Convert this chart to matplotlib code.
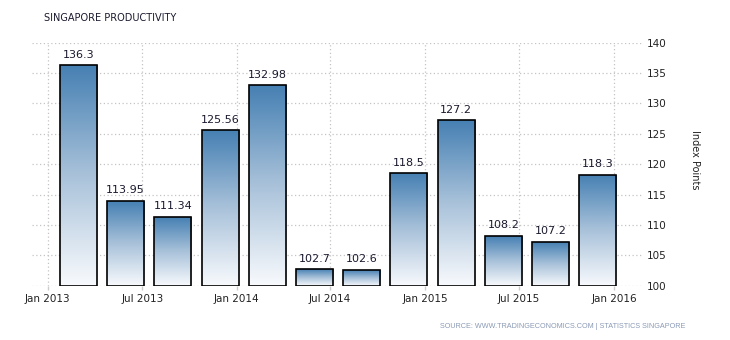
import matplotlib
matplotlib.use("Agg")
import matplotlib.pyplot as plt
import numpy as np
from matplotlib.colors import LinearSegmentedColormap

# Data
quarters = ["2013Q1", "2013Q2", "2013Q3", "2013Q4", "2014Q1", "2014Q2",
            "2014Q3", "2014Q4", "2015Q1", "2015Q2", "2015Q3", "2015Q4"]
values = [136.3, 113.95, 111.34, 125.56, 132.98, 102.7,
          102.6, 118.5, 127.2, 108.2, 107.2, 118.3]
value_labels = ["136.3", "113.95", "111.34", "125.56", "132.98", "102.7",
                "102.6", "118.5", "127.2", "108.2", "107.2", "118.3"]
tick_labels = ["Jan 2013", "Jul 2013", "Jan 2014", "Jul 2014",
               "Jan 2015", "Jul 2015", "Jan 2016"]
tick_pos = [-0.65, 1.35, 3.35, 5.33, 7.34, 9.33, 11.35]
y_ticks = [100, 105, 110, 115, 120, 125, 130, 135, 140]

fig = plt.figure(figsize=(7.3, 3.4), dpi=100)
ax = fig.add_axes([32/730, 1-285.7/340, (643-32)/730, (285.7-42.7)/340])

x = np.arange(len(values))
base = 100
bars = ax.bar(x, [v - base for v in values], bottom=base, width=0.785,
              facecolor="none", edgecolor="black", linewidth=1.2, zorder=4)

cmap = LinearSegmentedColormap.from_list("g", ["#f8fafd", "#a9c2da", "#4680b3"])
grad = np.linspace(0, 1, 256).reshape(-1, 1)
for b, v in zip(bars, values):
    x0 = b.get_x()
    w = b.get_width()
    im = ax.imshow(grad, cmap=cmap, origin="lower", aspect="auto",
                   extent=(x0, x0 + w, base, v), zorder=3, interpolation="bilinear")
    im.set_clip_path(b)

for xi, v, lab in zip(x, values, value_labels):
    ax.annotate(lab, (xi, v), xytext=(0, 4), textcoords="offset points",
                ha="center", va="bottom", fontsize=8, color="#1a1a2e")

ax.set_xlim(-0.985, 11.96)
ax.set_ylim(100, 140)
ax.set_yticks(y_ticks)
ax.set_xticks(tick_pos)
ax.set_xticklabels(tick_labels)
ax.yaxis.tick_right()
ax.tick_params(axis="y", length=0, pad=3, labelsize=7.5, colors="#222222")
ax.tick_params(axis="x", length=3, pad=3, labelsize=7.5, colors="#cccccc",
               labelcolor="#222222", width=1)
for s in ax.spines.values():
    s.set_visible(False)
ax.grid(True, color="#c4c4c4", linestyle=(0, (1, 2)), linewidth=0.9, zorder=0)
ax.set_axisbelow(True)

ax.yaxis.set_label_position("right")
ax.set_ylabel("Index Points", rotation=270, fontsize=7, color="#222222")
ax.yaxis.set_label_coords(1.093, 0.517)

fig.text(44/730, 1-18/340, "SINGAPORE PRODUCTIVITY", fontsize=7, color="#1a1a2e",
         ha="left", va="center")
fig.text(685/730, 1-326/340,
         "SOURCE: WWW.TRADINGECONOMICS.COM | STATISTICS SINGAPORE",
         fontsize=5.2, color="#8a9ab5", ha="right", va="center",
         family="Liberation Sans")

fig.savefig("out.png", dpi=100)
